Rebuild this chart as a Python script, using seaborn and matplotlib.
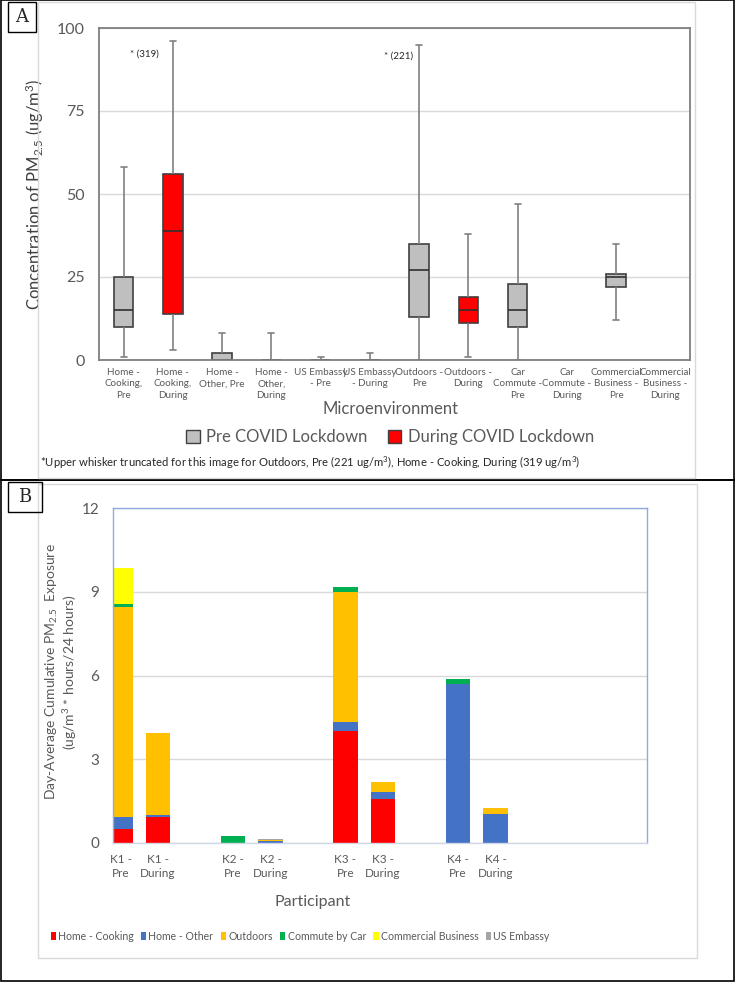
import numpy as np
import pandas as pd
import matplotlib
matplotlib.use("Agg")
import matplotlib.pyplot as plt
from matplotlib.patches import Patch, Rectangle
import seaborn as sns

# --- PANEL A DATA (five-number summaries) ---
envs = ["Home -\nCooking,\nPre", "Home -\nCooking,\nDuring", "Home -\nOther, Pre",
        "Home -\nOther,\nDuring", "US Embassy\n- Pre", "US Embassy\n- During",
        "Outdoors -\nPre", "Outdoors -\nDuring", "Car\nCommute -\nPre",
        "Car\nCommute -\nDuring", "Commercial\nBusiness -\nPre",
        "Commercial\nBusiness -\nDuring"]
periods = ["Pre", "During", "Pre", "During", "Pre", "During",
           "Pre", "During", "Pre", "During", "Pre", "During"]
w_low = [1, 3, 0, 0, 0, 0, 0, 1, 0, None, 12, None]
q1 = [10, 14, 0, 0, 0, 0, 13, 11, 10, None, 22, None]
med = [15, 39, 0, 0, 0, 0, 27, 15, 15, None, 25, None]
q3 = [25, 56, 2, 0, 0, 0, 35, 19, 23, None, 26, None]
w_high = [58, 96, 8, 8, 1, 2, 95, 38, 47, None, 35, None]
notes = ["* (319)", "* (221)"]
note_x = [0.72, 5.88]
note_y = [92, 91.5]

# --- PANEL B DATA (stacked exposure) ---
bar_labels = ["K1 -\nPre", "K1 -\nDuring", "K2 -\nPre", "K2 -\nDuring",
              "K3 -\nPre", "K3 -\nDuring", "K4 -\nPre", "K4 -\nDuring"]
bar_pos = [0, 1, 3, 4, 6, 7, 9, 10]
components = ["Home - Cooking", "Home - Other", "Outdoors", "Commute by Car",
              "Commercial Business", "US Embassy"]
comp_colors = ["#FF0000", "#4472C4", "#FFC000", "#00B050", "#FFFF00", "#A5A5A5"]
home_cooking = [0.50, 0.92, 0.00, 0.00, 4.00, 1.58, 0.00, 0.00]
home_other = [0.42, 0.07, 0.00, 0.08, 0.35, 0.24, 5.69, 1.04]
outdoors = [7.54, 2.96, 0.00, 0.03, 4.65, 0.38, 0.00, 0.23]
commute = [0.10, 0.00, 0.25, 0.00, 0.18, 0.00, 0.17, 0.00]
commercial = [1.28, 0.00, 0.00, 0.00, 0.00, 0.00, 0.00, 0.00]
embassy = [0.00, 0.00, 0.00, 0.02, 0.00, 0.00, 0.00, 0.00]

sns.set_style("white")
plt.rcParams['font.family'] = ['Lato', 'DejaVu Sans']
plt.rcParams['mathtext.default'] = 'regular'
TXT = "#595959"

fig = plt.figure(figsize=(7.35, 9.82), dpi=100)
W, H = 735, 982

def ax_rect(l, t, r, b):
    return [l / W, 1 - b / H, (r - l) / W, (b - t) / H]

def fx(x): return x / W
def fy(y): return 1 - y / H

# outer frames and panel letters
fig.add_artist(Rectangle((fx(0.5), fy(480)), fx(733), 480 / H, transform=fig.transFigure,
                         fill=False, ec="black", lw=1.2))
fig.add_artist(Rectangle((fx(0.5), fy(981)), fx(733), 501 / H, transform=fig.transFigure,
                         fill=False, ec="black", lw=1.2))
fig.add_artist(Rectangle((fx(38), fy(478)), fx(657), 476 / H, transform=fig.transFigure,
                         fill=False, ec="#d9d9d9", lw=1))
fig.add_artist(Rectangle((fx(38), fy(958)), fx(659), 474 / H, transform=fig.transFigure,
                         fill=False, ec="#d9d9d9", lw=1))
for lab, (l, t, r, b) in [("A", (8, 2, 36, 32)), ("B", (8, 482, 42, 512))]:
    fig.add_artist(Rectangle((fx(l), fy(b)), fx(r - l), (b - t) / H, transform=fig.transFigure,
                             fill=False, ec="black", lw=1))
    fig.text(fx((l + r) / 2), fy((t + b) / 2), lab, ha="center", va="center",
             fontsize=13, family="DejaVu Serif")

# ---------------- Panel A ----------------
rows = []
for e, p, a, b, c, d, f in zip(envs, periods, w_low, q1, med, q3, w_high):
    if a is None:
        continue
    for v in (a, b, c, d, f):
        rows.append({"env": e, "period": p, "val": v})
dfA = pd.DataFrame(rows)

axA = fig.add_axes(ax_rect(99, 28, 690, 360))
sns.boxplot(data=dfA, x="env", y="val", hue="period", order=envs,
            hue_order=["Pre", "During"], palette={"Pre": "#BFBFBF", "During": "#FF0000"},
            saturation=1, dodge=False, whis=(0, 100), width=0.4, linewidth=1.2,
            legend=False, boxprops=dict(edgecolor="#404040"),
            whiskerprops=dict(color="#808080"), capprops=dict(color="#808080"),
            medianprops=dict(color="#303030"), capwidths=0.12, ax=axA)
axA.set_ylim(0, 100)
axA.set_xlim(-0.5, len(envs) - 0.5)
axA.set_yticks([0, 25, 50, 75, 100])
axA.yaxis.grid(True, color="#d9d9d9", lw=1)
axA.set_axisbelow(True)
axA.tick_params(axis="y", length=0, labelsize=11.5, labelcolor=TXT, pad=10)
axA.tick_params(axis="x", length=0, labelsize=7.1, labelcolor=TXT, pad=6)
axA.set_xticks(range(len(envs)))
axA.set_xticklabels(envs, linespacing=1.3, va="top")
for s in axA.spines.values():
    s.set_color("#7f7f7f")
    s.set_linewidth(1.3)
axA.set_xlabel("")
axA.set_ylabel("Concentration of PM$_{2.5}$ (ug/m$^3$)", fontsize=12, color="#404040",
               labelpad=8)
for t, x, y in zip(notes, note_x, note_y):
    axA.text(x, y, t, ha="right", va="center", fontsize=7, color="#262626")
fig.text(fx(390), fy(409), "Microenvironment", ha="center", va="center", fontsize=12,
         color=TXT)
hA = [Patch(fc="#BFBFBF", ec="#404040", lw=1), Patch(fc="#FF0000", ec="#404040", lw=1)]
fig.legend(hA, ["Pre COVID Lockdown", "During COVID Lockdown"], loc="center",
           bbox_to_anchor=(fx(390), fy(437)), ncol=2, frameon=False, fontsize=12,
           handlelength=0.8, handleheight=0.8, handletextpad=0.4, columnspacing=1.2,
           labelcolor=TXT)
fig.text(fx(40), fy(463),
         "*Upper whisker truncated for this image for Outdoors, Pre (221 ug/m$^3$), "
         "Home - Cooking, During (319 ug/m$^3$)", ha="left", va="center", fontsize=8.1,
         color="#262626")

# ---------------- Panel B ----------------
axB = fig.add_axes(ax_rect(113, 508, 647, 843))
series = [home_cooking, home_other, outdoors, commute, commercial, embassy]
bottom = np.zeros(len(bar_pos))
for name, col, vals in zip(components, comp_colors, series):
    vals = np.array(vals, dtype=float)
    sns.barplot(x=bar_pos, y=vals, native_scale=True, color=col, width=0.65,
                errorbar=None, bottom=bottom.copy(), linewidth=0,
                saturation=1, ax=axB)
    bottom += vals
if axB.get_legend() is not None:
    axB.get_legend().remove()
axB.set_ylim(0, 12)
axB.set_xlim(-0.2, 14.04)
axB.set_yticks([0, 3, 6, 9, 12])
axB.set_xticks(bar_pos)
axB.set_xticklabels(bar_labels, linespacing=1.35)
axB.yaxis.grid(True, color="#d9d9d9", lw=1)
axB.set_axisbelow(True)
axB.tick_params(axis="y", length=0, labelsize=11, labelcolor=TXT, pad=10)
axB.tick_params(axis="x", length=0, labelsize=8.5, labelcolor=TXT, pad=8)
for k, s in axB.spines.items():
    s.set_color("#8FAADC")
    s.set_linewidth(1)
axB.spines["bottom"].set_color("#d0d8e8")
axB.set_xlabel("")
axB.set_ylabel("")
fig.text(fx(52), fy(672), "Day-Average Cumulative PM$_{2.5}$  Exposure", rotation=90,
         ha="center", va="center", fontsize=10, color=TXT)
fig.text(fx(70), fy(672), "(ug/m$^3$ * hours/24 hours)", rotation=90,
         ha="center", va="center", fontsize=10, color=TXT)
fig.text(fx(313), fy(902), "Participant", ha="center", va="center", fontsize=11.5,
         color=TXT)
hB = [Patch(fc=c, ec="none") for c in comp_colors]
fig.legend(hB, components, loc="center", bbox_to_anchor=(fx(300), fy(936)), ncol=6,
           frameon=False, fontsize=7.6, handlelength=0.5, handleheight=0.8,
           handletextpad=0.2, columnspacing=0.7, labelcolor=TXT)

fig.savefig("out.png", dpi=100)
